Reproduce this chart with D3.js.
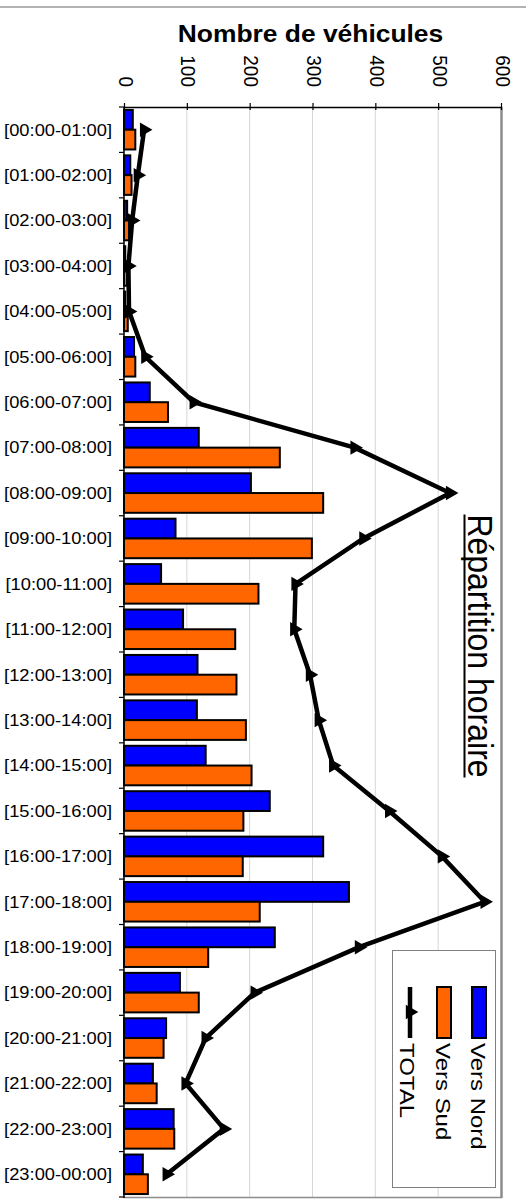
<!DOCTYPE html>
<html>
<head>
<meta charset="utf-8">
<script src="https://cdn.jsdelivr.net/npm/d3@7"></script>
<style>
  body { margin: 0; background: #fff; }
  text { font-family: "Liberation Sans", Arial, sans-serif; fill: #000; }
</style>
</head>
<body>
<svg id="chart" width="526" height="1204"></svg>
<script>
var categories = ["[00:00-01:00]", "[01:00-02:00]", "[02:00-03:00]", "[03:00-04:00]",
  "[04:00-05:00]", "[05:00-06:00]", "[06:00-07:00]", "[07:00-08:00]", "[08:00-09:00]",
  "[09:00-10:00]", "[10:00-11:00]", "[11:00-12:00]", "[12:00-13:00]", "[13:00-14:00]",
  "[14:00-15:00]", "[15:00-16:00]", "[16:00-17:00]", "[17:00-18:00]", "[18:00-19:00]",
  "[19:00-20:00]", "[20:00-21:00]", "[21:00-22:00]", "[22:00-23:00]", "[23:00-00:00]"];
var versNord = [14, 10, 5, 2, 2, 16, 41, 119, 202, 82, 59, 94, 117, 116, 130, 232, 317, 358, 240, 89, 67, 46, 79, 30];
var versSud = [18, 12, 8, 5, 6, 18, 70, 248, 317, 299, 214, 177, 179, 194, 203, 190, 189, 216, 134, 119, 63, 52, 80, 38];
var total = [32, 22, 13, 7, 8, 34, 111, 367, 519, 381, 273, 271, 296, 310, 333, 422, 506, 574, 374, 208, 130, 98, 159, 68];
var valueTicks = [0, 100, 200, 300, 400, 500, 600];
var seriesNames = ["Vers Nord", "Vers Sud", "TOTAL"];
var seriesColors = ["#0000ff", "#ff6600", "#000000"];
var chartTitle = "Répartition horaire";
var axisTitle = "Nombre de véhicules";

var svg = d3.select("#chart");

var rows = categories.map(function(c, i) {
  return { cat: c, nord: versNord[i], sud: versSud[i], total: total[i] };
});

var x = d3.scaleLinear().domain([0, 600]).range([124, 501]);
var y = d3.scaleBand().domain(categories).range([107, 1197])
    .paddingInner(0.13).paddingOuter(0.065);
var ySub = d3.scaleBand().domain(["nord", "sud"]).range([0, y.bandwidth()]);

// outer frame line
svg.append("line")
    .attr("x1", 0).attr("x2", 526).attr("y1", 7).attr("y2", 7)
    .attr("stroke", "#9a9a9a").attr("stroke-width", 1.5);

// gridlines
svg.append("g")
  .selectAll("line")
  .data(valueTicks.slice(1, -1))
  .enter().append("line")
    .attr("x1", function(d) { return x(d); })
    .attr("x2", function(d) { return x(d); })
    .attr("y1", 107).attr("y2", 1197)
    .attr("stroke", "#d6d6d6").attr("stroke-width", 1);

// bars
var groups = svg.append("g").selectAll("g")
  .data(rows)
  .enter().append("g")
    .attr("transform", function(d) { return "translate(0," + y(d.cat) + ")"; });

groups.append("rect")
    .attr("x", x(0))
    .attr("y", ySub("nord"))
    .attr("width", function(d) { return x(d.nord) - x(0); })
    .attr("height", ySub.bandwidth())
    .attr("fill", seriesColors[0])
    .attr("stroke", "#000").attr("stroke-width", 2);

groups.append("rect")
    .attr("x", x(0))
    .attr("y", ySub("sud"))
    .attr("width", function(d) { return x(d.sud) - x(0); })
    .attr("height", ySub.bandwidth())
    .attr("fill", seriesColors[1])
    .attr("stroke", "#000").attr("stroke-width", 2);

// plot borders (right / bottom)
svg.append("line")
    .attr("x1", 501.5).attr("x2", 501.5).attr("y1", 107).attr("y2", 1198)
    .attr("stroke", "#8c8c8c").attr("stroke-width", 2.5);
svg.append("line")
    .attr("x1", 124).attr("x2", 502).attr("y1", 1197.5).attr("y2", 1197.5)
    .attr("stroke", "#8c8c8c").attr("stroke-width", 1.5);

// total line
var line = d3.line()
    .x(function(d) { return x(d.total); })
    .y(function(d) { return y(d.cat) + y.bandwidth() / 2; });

svg.append("path")
    .datum(rows)
    .attr("d", line)
    .attr("fill", "none")
    .attr("stroke", "#000")
    .attr("stroke-width", 4.5)
    .attr("stroke-linejoin", "miter");

var tri = d3.symbol().type(d3.symbolTriangle).size(90);

svg.append("g").selectAll("path")
  .data(rows)
  .enter().append("path")
    .attr("d", tri)
    .attr("transform", function(d) {
      return "translate(" + x(d.total) + "," + (y(d.cat) + y.bandwidth() / 2) + ") rotate(90)";
    })
    .attr("fill", "#000");

// value axis (top)
var axisG = svg.append("g")
    .attr("transform", "translate(0,107)")
    .call(d3.axisTop(x).tickValues(valueTicks).tickSizeInner(4).tickSizeOuter(0));

axisG.select(".domain").attr("stroke", "#000").attr("stroke-width", 1.5);
axisG.selectAll(".tick line").attr("y1", 3).attr("y2", -4).attr("stroke", "#000").attr("stroke-width", 1.2);
axisG.selectAll(".tick text")
    .attr("x", 0).attr("y", 0).attr("dy", 0)
    .attr("font-size", 19)
    .attr("text-anchor", "end")
    .attr("fill", "#000")
    .attr("transform", "translate(-6,-20) rotate(90) scale(1,1.1)");

// category axis (left)
svg.append("line")
    .attr("x1", 124).attr("x2", 124).attr("y1", 107).attr("y2", 1198)
    .attr("stroke", "#000").attr("stroke-width", 1.5);

var halfGap = y.step() * y.paddingInner() / 2;
svg.append("g").selectAll("line")
  .data(categories.concat(["end"]))
  .enter().append("line")
    .attr("x1", 119).attr("x2", 124)
    .attr("y1", function(d, i) { return i < categories.length ? y(d) - halfGap : 1197; })
    .attr("y2", function(d, i) { return i < categories.length ? y(d) - halfGap : 1197; })
    .attr("stroke", "#000").attr("stroke-width", 1.2);

svg.append("g").selectAll("text")
  .data(categories)
  .enter().append("text")
    .attr("transform", function(d) {
      return "translate(112," + (y(d) + y.bandwidth() / 2 + 5.8) + ") scale(1.11,1)";
    })
    .attr("text-anchor", "end")
    .attr("font-size", 16.5)
    .text(function(d) { return d; });

// axis title
svg.append("text")
    .attr("transform", "translate(310.5,42) scale(1.1,1)")
    .attr("text-anchor", "middle")
    .attr("font-size", 24)
    .attr("font-weight", "bold")
    .text(axisTitle);

// chart title, rotated and underlined
var title = svg.append("text")
    .attr("transform", "translate(468,646) rotate(90) scale(1,1.09)")
    .attr("text-anchor", "middle")
    .attr("font-size", 32)
    .text(chartTitle);
var titleLen = title.node().getComputedTextLength();
svg.append("line")
    .attr("x1", 464.5).attr("x2", 464.5)
    .attr("y1", 646 - titleLen / 2).attr("y2", 646 + titleLen / 2)
    .attr("stroke", "#000").attr("stroke-width", 2);

// legend
var legend = svg.append("g");
legend.append("rect")
    .attr("x", 392.5).attr("y", 950.5).attr("width", 103).attr("height", 237)
    .attr("fill", "#fff").attr("stroke", "#808080").attr("stroke-width", 1);

var legendX = [471, 436, 400];
seriesNames.forEach(function(name, i) {
  if (i < 2) {
    legend.append("rect")
        .attr("x", legendX[i] + 1).attr("y", 987)
        .attr("width", 14).attr("height", 51)
        .attr("fill", seriesColors[i])
        .attr("stroke", "#000").attr("stroke-width", 2);
  } else {
    legend.append("line")
        .attr("x1", 410).attr("x2", 410).attr("y1", 987).attr("y2", 1038)
        .attr("stroke", "#000").attr("stroke-width", 4.5);
    legend.append("path")
        .attr("d", tri)
        .attr("transform", "translate(410,1012) rotate(90)")
        .attr("fill", "#000");
  }
  legend.append("text")
      .attr("transform", "translate(" + legendX[i] + ",1043) rotate(90) scale(1.09,0.95)")
      .attr("font-size", 22)
      .text(name);
});
</script>
</body>
</html>
